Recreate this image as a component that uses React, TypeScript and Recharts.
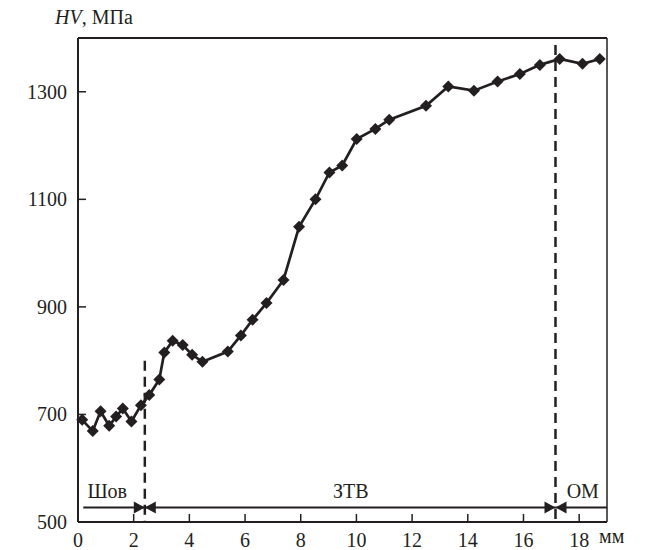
import React from "react";
import {
  LineChart,
  Line,
  XAxis,
  YAxis,
  ReferenceLine,
  ReferenceDot,
} from "recharts";

// distance from weld centre, mm
const distance = [
  0.15, 0.53, 0.81, 1.12, 1.37, 1.61, 1.92, 2.26, 2.56, 2.92, 3.1, 3.4, 3.76,
  4.1, 4.47, 5.38, 5.85, 6.27, 6.77, 7.38, 7.94, 8.53, 9.03, 9.49, 10.01,
  10.68, 11.18, 12.5, 13.3, 14.22, 15.07, 15.87, 16.59, 17.3, 18.12, 18.74,
];
// microhardness HV, MPa
const hardness = [
  690, 669, 706, 679, 696, 711, 687, 717, 736, 765, 815, 837, 829, 811, 798,
  817, 847, 876, 907, 950, 1049, 1100, 1150, 1163, 1212, 1231, 1248, 1274,
  1310, 1302, 1319, 1333, 1350, 1361, 1352, 1361,
];

const xTicks = [0, 2, 4, 6, 8, 10, 12, 14, 16, 18];
const yTicks = [500, 700, 900, 1100, 1300];

// zone borders and labels
const weldBorder = 2.4;
const baseBorder = 17.15;
const weldBorderTop = 800;
const baseBorderTop = 1387;
const arrowLevel = 527;
const arrowStart = 0.19;
const zoneNames = ["Шов", "ЗТВ", "ОМ"];
const zoneCenters = [1.05, 9.8, 18.13];

const data = distance.map((x, i) => ({ x, hv: hardness[i] }));

const INK = "#231f20";
const FONT = "'Liberation Serif', 'Times New Roman', serif";

const Diamond = (props: any) => {
  const { cx, cy } = props;
  if (cx == null || cy == null) return null;
  const s = 6;
  return (
    <polygon
      points={`${cx},${cy - s} ${cx + s},${cy} ${cx},${cy + s} ${cx - s},${cy}`}
      fill={INK}
    />
  );
};

const XTick = (props: any) => {
  const { x, y, payload } = props;
  return (
    <g>
      {payload.value !== 0 && (
        <line x1={x} y1={y} x2={x} y2={y - 8} stroke={INK} strokeWidth={1.5} />
      )}
      <text x={x} y={y + 25} textAnchor="middle" fill={INK} fontSize={20} fontFamily={FONT}>
        {payload.value}
      </text>
    </g>
  );
};

const YTick = (props: any) => {
  const { x, y, payload } = props;
  return (
    <g>
      {payload.value !== 500 && (
        <line x1={x} y1={y} x2={x + 8} y2={y} stroke={INK} strokeWidth={1.5} />
      )}
      <text x={x - 11} y={y + 7} textAnchor="end" fill={INK} fontSize={20} fontFamily={FONT}>
        {payload.value}
      </text>
    </g>
  );
};

const arrowHead = (dir: "left" | "right") => (props: any) => {
  const { cx, cy } = props;
  const w = dir === "right" ? -11 : 11;
  return (
    <polygon
      points={`${cx},${cy} ${cx + w},${cy - 6} ${cx + w},${cy + 6}`}
      fill={INK}
    />
  );
};

const zoneLabel = (text: string) => (props: any) => {
  const { cx, cy } = props;
  return (
    <text x={cx} y={cy - 9} textAnchor="middle" fill={INK} fontSize={20} fontFamily={FONT}>
      {text}
    </text>
  );
};

export default function App() {
  return (
    <div
      style={{
        position: "absolute",
        left: 0,
        top: 0,
        width: 656,
        height: 550,
        background: "#fff",
        fontFamily: FONT,
      }}
    >
      <LineChart
        width={656}
        height={550}
        data={data}
        margin={{ top: 38, right: 49, bottom: 0, left: 0 }}
      >
        <XAxis
          dataKey="x"
          type="number"
          domain={[0, 19]}
          ticks={xTicks}
          interval={0}
          height={28}
          tickSize={0}
          tickMargin={0}
          tick={<XTick />}
          axisLine={{ stroke: INK, strokeWidth: 2 }}
          tickLine={false}
        />
        <YAxis
          type="number"
          domain={[500, 1400]}
          ticks={yTicks}
          interval={0}
          width={78}
          tickSize={0}
          tickMargin={0}
          tick={<YTick />}
          axisLine={{ stroke: INK, strokeWidth: 2 }}
          tickLine={false}
        />
        <ReferenceLine y={1400} stroke={INK} strokeWidth={2} ifOverflow="visible" />
        <ReferenceLine x={19} stroke={INK} strokeWidth={1.5} ifOverflow="visible" />
        <ReferenceLine
          segment={[
            { x: weldBorder, y: weldBorderTop },
            { x: weldBorder, y: 500 },
          ]}
          stroke={INK}
          strokeWidth={2.5}
          strokeDasharray="10 6"
          ifOverflow="visible"
        />
        <ReferenceLine
          segment={[
            { x: baseBorder, y: baseBorderTop },
            { x: baseBorder, y: 500 },
          ]}
          stroke={INK}
          strokeWidth={2.5}
          strokeDasharray="10 6"
          ifOverflow="visible"
        />
        <ReferenceLine
          segment={[
            { x: arrowStart, y: arrowLevel },
            { x: 19, y: arrowLevel },
          ]}
          stroke={INK}
          strokeWidth={1.8}
          ifOverflow="visible"
        />
        <ReferenceDot x={weldBorder} y={arrowLevel} r={0} shape={arrowHead("right")} ifOverflow="visible" />
        <ReferenceDot x={weldBorder} y={arrowLevel} r={0} shape={arrowHead("left")} ifOverflow="visible" />
        <ReferenceDot x={baseBorder} y={arrowLevel} r={0} shape={arrowHead("right")} ifOverflow="visible" />
        <ReferenceDot x={baseBorder} y={arrowLevel} r={0} shape={arrowHead("left")} ifOverflow="visible" />
        {zoneNames.map((name, i) => (
          <ReferenceDot
            key={name}
            x={zoneCenters[i]}
            y={arrowLevel}
            r={0}
            shape={zoneLabel(name)}
            ifOverflow="visible"
          />
        ))}
        <Line
          type="linear"
          dataKey="hv"
          stroke={INK}
          strokeWidth={2.7}
          dot={<Diamond />}
          activeDot={false}
          isAnimationActive={false}
        />
      </LineChart>
      <div
        style={{
          position: "absolute",
          left: 55,
          top: 6,
          fontSize: 20,
          color: INK,
          whiteSpace: "nowrap",
        }}
      >
        <i>HV</i>, МПа
      </div>
      <div
        style={{
          position: "absolute",
          left: 599,
          top: 525,
          fontSize: 20,
          color: INK,
        }}
      >
        мм
      </div>
    </div>
  );
}
